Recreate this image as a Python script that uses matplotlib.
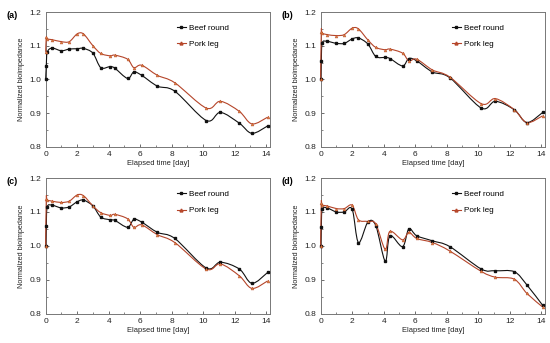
import numpy as np
import matplotlib
matplotlib.use("Agg")
import matplotlib.pyplot as plt
from matplotlib.path import Path
from matplotlib.patches import PathPatch
from matplotlib.ticker import MultipleLocator

plt.rcParams['font.family'] = ['Liberation Sans', 'DejaVu Sans']

days = [0, 0.04, 0.1, 0.4, 1.0, 1.5, 2.0, 2.4, 3.0, 3.5, 4.1, 4.4, 5.2, 5.6, 6.1,
        7.1, 8.2, 10.2, 11.1, 12.3, 13.1, 14.1]

beef_a = [1.0, 1.04, 1.08, 1.093, 1.085, 1.09, 1.091, 1.092, 1.078, 1.035, 1.038, 1.033,
          1.003, 1.022, 1.012, 0.98, 0.965, 0.878, 0.902, 0.87, 0.84, 0.862]
pork_a = [1.082, 1.125, 1.12, 1.118, 1.112, 1.112, 1.135, 1.135, 1.1, 1.077, 1.07, 1.072,
          1.06, 1.035, 1.042, 1.012, 0.99, 0.915, 0.935, 0.905, 0.868, 0.888]

beef_b = [1.0, 1.055, 1.108, 1.113, 1.107, 1.107, 1.12, 1.123, 1.105, 1.068, 1.065, 1.062,
          1.04, 1.062, 1.055, 1.022, 1.005, 0.915, 0.935, 0.91, 0.872, 0.902]
pork_b = [1.0, 1.14, 1.137, 1.133, 1.13, 1.133, 1.152, 1.15, 1.117, 1.095, 1.088, 1.09,
          1.078, 1.055, 1.06, 1.028, 1.007, 0.928, 0.943, 0.91, 0.872, 0.892]

beef_c = [1.0, 1.06, 1.115, 1.12, 1.112, 1.115, 1.13, 1.135, 1.118, 1.085, 1.077, 1.075,
          1.055, 1.078, 1.07, 1.04, 1.022, 0.935, 0.952, 0.932, 0.89, 0.922]
pork_c = [1.0, 1.138, 1.135, 1.132, 1.128, 1.132, 1.15, 1.148, 1.118, 1.098, 1.09, 1.093,
          1.08, 1.055, 1.062, 1.033, 1.01, 0.932, 0.947, 0.912, 0.875, 0.897]

beef_d = [1.0, 1.055, 1.108, 1.112, 1.1, 1.1, 1.108, 1.01, 1.07, 1.06, 0.955, 1.03,
          0.998, 1.05, 1.03, 1.015, 0.998, 0.932, 0.927, 0.924, 0.885, 0.825]
pork_d = [1.0, 1.125, 1.12, 1.118, 1.11, 1.11, 1.12, 1.077, 1.072, 1.065, 0.99, 1.043,
          1.018, 1.04, 1.022, 1.01, 0.985, 0.925, 0.908, 0.902, 0.86, 0.82]

panels = [("(a)", beef_a, pork_a), ("(b)", beef_b, pork_b),
          ("(c)", beef_c, pork_c), ("(d)", beef_d, pork_d)]

series_names = ["Beef round", "Pork leg"]
xticks = [0, 2, 4, 6, 8, 10, 12, 14]
yticks = [0.8, 0.9, 1.0, 1.1, 1.2]

BEEF_C = "#111111"
PORK_LINE = "#b5452a"
PORK_MK = "#d9823b"


def smooth_path(x, y):
    p = np.column_stack([x, y]).astype(float)
    n = len(p)
    verts = [p[0]]
    codes = [Path.MOVETO]
    for i in range(n - 1):
        p0 = p[i - 1] if i > 0 else p[i]
        p1 = p[i]
        p2 = p[i + 1]
        p3 = p[i + 2] if i + 2 < n else p[i + 1]
        c1 = p1 + (p2 - p0) / 6.0
        c2 = p2 - (p3 - p1) / 6.0
        verts += [c1, c2, p2]
        codes += [Path.CURVE4] * 3
    return Path(verts, codes)


fig = plt.figure(figsize=(5.5, 3.43), dpi=100)
positions = [
    (0.083, 0.572, 0.408, 0.393),
    (0.583, 0.572, 0.408, 0.393),
    (0.083, 0.085, 0.408, 0.396),
    (0.583, 0.085, 0.408, 0.396),
]

for (label, beef, pork), pos in zip(panels, positions):
    ax = fig.add_axes(pos)
    ax.add_patch(PathPatch(smooth_path(days, beef), fill=False, edgecolor=BEEF_C,
                           lw=0.8, clip_on=False, zorder=3))
    ax.add_patch(PathPatch(smooth_path(days, pork), fill=False, edgecolor=PORK_LINE,
                           lw=0.8, clip_on=False, zorder=3))
    ax.plot(days, beef, linestyle='none', marker='s', ms=1.9, color=BEEF_C,
            clip_on=False, zorder=4)
    ax.plot(days, pork, linestyle='none', marker='^', ms=2.1, color=PORK_MK,
            markeredgecolor=PORK_LINE, markeredgewidth=0.3, clip_on=False, zorder=4)
    # legend proxies
    ax.plot([], [], color=BEEF_C, lw=0.8, marker='s', ms=1.9, label=series_names[0])
    ax.plot([], [], color=PORK_LINE, lw=0.8, marker='^', ms=2.1,
            markerfacecolor=PORK_MK, label=series_names[1])
    ax.set_xlim(0, 14.25)
    ax.set_ylim(0.8, 1.2)
    ax.set_xticks(xticks)
    ax.set_yticks(yticks)
    ax.set_yticklabels([f"{v:.1f}" for v in yticks])
    ax.xaxis.set_minor_locator(MultipleLocator(1))
    ax.yaxis.set_minor_locator(MultipleLocator(0.05))
    ax.tick_params(which='both', direction='in', labelsize=6, color='#555555',
                   labelcolor='#222222', pad=3)
    ax.tick_params(which='major', length=2.5, width=0.6)
    ax.tick_params(which='minor', length=1.5, width=0.5)
    for s in ax.spines.values():
        s.set_color('#777777')
        s.set_linewidth(0.7)
    ax.set_xlabel("Elapsed time [day]", fontsize=5.4, labelpad=1.5, color='#222222')
    ax.set_ylabel("Normalized bioimpedance", fontsize=5.2, labelpad=3, color='#222222')
    ax.legend(loc='upper left', bbox_to_anchor=(0.585, 0.912), frameon=False,
              fontsize=5.9, handlelength=1.1, handletextpad=0.35,
              labelspacing=1.1, borderaxespad=0.0, borderpad=0.0)
    bbox = ax.get_position()
    fig.text(bbox.x0 - 0.072, bbox.y1 - 0.01, label, fontsize=6.5, fontweight='bold',
             ha='left', va='center')

fig.savefig("out.png", dpi=100)
